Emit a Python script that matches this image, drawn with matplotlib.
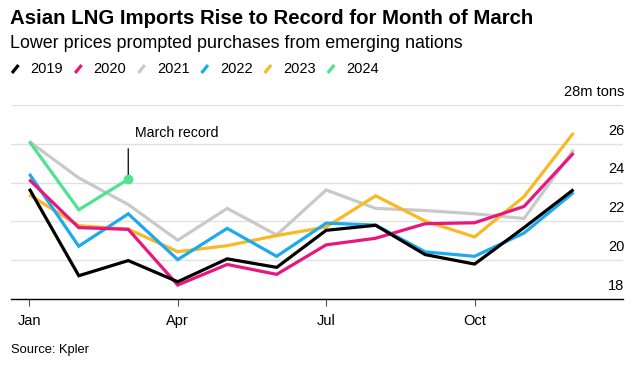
import numpy as np
import matplotlib
matplotlib.use("Agg")
import matplotlib.pyplot as plt
from matplotlib.lines import Line2D
from matplotlib.transforms import blended_transform_factory

plt.rcParams['font.family'] = ['Liberation Sans', 'DejaVu Sans']

# monthly LNG imports, million tons
months = ["Jan", "Feb", "Mar", "Apr", "May", "Jun", "Jul", "Aug", "Sep", "Oct", "Nov", "Dec"]
y2019 = [23.68, 19.2, 19.98, 18.89, 20.07, 19.63, 21.54, 21.8, 20.29, 19.8, 21.68, 23.64]
y2020 = [24.15, 21.68, 21.59, 18.72, 19.78, 19.27, 20.79, 21.13, 21.88, 21.93, 22.77, 25.52]
y2021 = [26.12, 24.24, 22.87, 21.03, 22.67, 21.3, 23.62, 22.67, 22.56, 22.39, 22.15, 25.69]
y2022 = [24.45, 20.72, 22.39, 20.03, 21.64, 20.2, 21.91, 21.81, 20.43, 20.2, 21.4, 23.49]
y2023 = [23.37, 21.78, 21.6, 20.44, 20.75, 21.27, 21.71, 23.32, 22.02, 21.2, 23.28, 26.56]
y2024 = [26.12, 22.6, 24.17]

years = ["2019", "2020", "2021", "2022", "2023", "2024"]
colors = {"2019": "#000000", "2020": "#e8177f", "2021": "#c9c9c9",
          "2022": "#1ea9ee", "2023": "#f7b924", "2024": "#4ee38f"}
series = {"2019": y2019, "2020": y2020, "2021": y2021,
          "2022": y2022, "2023": y2023, "2024": y2024}
draw_order = ["2021", "2023", "2022", "2020", "2019", "2024"]

yticks = [18, 20, 22, 24, 26, 28]
xtick_idx = [0, 3, 6, 9]

W, H = 638, 365
fig = plt.figure(figsize=(W / 100, H / 100), dpi=100)
ax = fig.add_axes([11 / W, 66 / H, 612 / W, 194 / H])

for yr in draw_order:
    vals = series[yr]
    ax.plot(np.arange(len(vals)), vals, color=colors[yr], lw=2.3,
            solid_joinstyle='miter', solid_capstyle='butt', zorder=3)

# March record marker + callout
ax.plot([2], [y2024[2]], 'o', color=colors["2024"], ms=6, zorder=4)
ax.annotate("", xy=(2, y2024[2]), xytext=(0, 22), textcoords='offset points',
            arrowprops=dict(arrowstyle='-', color='black', lw=0.9, shrinkA=0, shrinkB=2))
ax.annotate("March record", xy=(2, y2024[2]), xytext=(4.5, 33), textcoords='offset points',
            ha='left', va='center', fontsize=10.2, color='black')

ax.set_xlim(-0.37, 12)
ax.set_ylim(18, 28)
ax.set_yticks(yticks)
ax.yaxis.grid(True, color='#e1e1e1', lw=1)
ax.tick_params(axis='y', length=0, labelleft=False)
ax.set_xticks(xtick_idx)
ax.set_xticklabels([months[i] for i in xtick_idx])
ax.tick_params(axis='x', length=5, width=0.8, color='#555555', pad=6, labelsize=10.5)
for s in ["top", "right", "left"]:
    ax.spines[s].set_visible(False)
ax.spines["bottom"].set_linewidth(1)
ax.set_axisbelow(True)

# right side labels sitting above gridlines
tr = blended_transform_factory(ax.transAxes, ax.transData)
for v in yticks:
    lab = "28m tons" if v == 28 else str(v)
    ax.annotate(lab, xy=(1.0, v), xycoords=tr, xytext=(1, 9.5), textcoords='offset points',
                ha='right', va='center', fontsize=10.5)

fig.text(10 / W, 1 - 18 / H, "Asian LNG Imports Rise to Record for Month of March",
         fontsize=14.7, fontweight='bold', va='center', ha='left')
fig.text(10 / W, 1 - 44 / H, "Lower prices prompted purchases from emerging nations",
         fontsize=12.9, va='center', ha='left')
fig.text(11 / W, 1 - 350 / H, "Source: Kpler", fontsize=9.3, va='center', ha='left')

# legend row with slanted strokes
fig.canvas.draw()
renderer = fig.canvas.get_renderer()
x = 12.0
for yr in years:
    fig.add_artist(Line2D([x / W, (x + 6.5) / W], [1 - 73 / H, 1 - 65 / H],
                          transform=fig.transFigure, color=colors[yr], lw=2.3,
                          solid_capstyle='butt'))
    t = fig.text((x + 18.5) / W, 1 - 69 / H, yr, fontsize=10.5, va='center', ha='left')
    bb = t.get_window_extent(renderer)
    x = bb.x1 + 12

fig.savefig("out.png", dpi=100)
